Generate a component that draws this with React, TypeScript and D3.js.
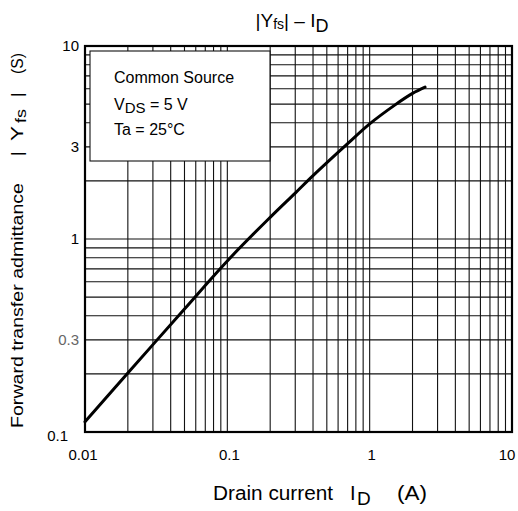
import React from "react";
import * as d3 from "d3";

const currentA = [0.01, 0.02, 0.05, 0.1, 0.2, 0.3, 0.4, 0.7, 1.0, 1.5, 2.0, 2.45];
const yfsS = [0.113, 0.202, 0.434, 0.77, 1.295, 1.73, 2.13, 3.12, 3.95, 4.94, 5.68, 6.12];
const xTicks = [0.01, 0.1, 1, 10];
const xTickLabels = ["0.01", "0.1", "1", "10"];
const yTicks = [0.1, 0.3, 1, 3, 10];
const yTickLabels = ["0.1", "0.3", "1", "3", "10"];

const W = 518, H = 511;
const L = 85, R = 512, T = 46, B = 432;
const FONT = "Liberation Sans, Arial, sans-serif";

export default function App() {
  const x = d3.scaleLog().domain([0.01, 10]).range([L, R]);
  const y = d3.scaleLog().domain([0.1, 10]).range([B, T]);

  const xGrid: number[] = [];
  for (const d of [0.01, 0.1, 1]) for (let k = 1; k <= 9; k++) xGrid.push(d * k);
  xGrid.push(10);
  const yGrid: number[] = [];
  for (const d of [0.1, 1]) for (let k = 1; k <= 9; k++) yGrid.push(d * k);
  yGrid.push(10);

  const pts = currentA.map((c, i) => [c, yfsS[i]] as [number, number]);
  const line = d3
    .line<[number, number]>()
    .x((d) => x(d[0]))
    .y((d) => y(d[1]))
    .curve(d3.curveCatmullRom.alpha(0.5));

  const lg = { x0: 90, y0: 51, x1: 270, y1: 161 };
  const ry = (sy: number) => -sy;

  return (
    <div style={{ position: "absolute", left: 0, top: 0 }}>
      <svg width={W} height={H} style={{ display: "block", background: "#fff" }} fontFamily={FONT}>
        <rect x={0} y={0} width={W} height={H} fill="#fff" />
        {xGrid.map((v, i) => (
          <line key={"vx" + i} x1={x(v)} x2={x(v)} y1={T} y2={B} stroke="#111" strokeWidth={1.1} />
        ))}
        {yGrid.map((v, i) => (
          <line key={"hy" + i} x1={L} x2={R} y1={y(v)} y2={y(v)} stroke="#111" strokeWidth={1.1} />
        ))}
        <rect x={lg.x0} y={lg.y0} width={lg.x1 - lg.x0} height={lg.y1 - lg.y0} fill="#fff" stroke="#111" strokeWidth={1.1} />
        <g fontSize={16} fill="#000">
          <text x={114} y={83}>Common Source</text>
          <text x={114} y={110}>
            V<tspan fontSize={15} dy={3}>DS</tspan>
            <tspan dy={-3}> = 5 V</tspan>
          </text>
          <text x={114} y={135}>Ta = 25°C</text>
        </g>
        <rect x={L} y={T} width={R - L} height={B - T} fill="none" stroke="#000" strokeWidth={2.2} />
        <path d={line(pts) || ""} fill="none" stroke="#000" strokeWidth={3} strokeLinecap="round" />

        <g fontSize={15} fill="#000">
          {xTicks.map((v, i) => (
            <text key={"xt" + i} x={i === 3 ? x(v) - 5 : i === 0 ? x(v) - 2 : x(v) + 2} y={460} textAnchor="middle">
              {xTickLabels[i]}
            </text>
          ))}
          {yTicks.map((v, i) => (
            <text
              key={"yt" + i}
              x={i === 0 ? 68 : 79}
              y={i === 0 ? 441 : y(v) + 5}
              textAnchor="end"
              fill={i === 1 ? "#666" : "#000"}
            >
              {yTickLabels[i]}
            </text>
          ))}
        </g>

        {/* title */}
        <text x={292} y={27} fontSize={19} textAnchor="middle" fill="#000">
          |Y<tspan fontSize={14} dy={2}>fs</tspan>
          <tspan dy={-2}>| – I</tspan>
          <tspan dy={5} fontSize={18}>D</tspan>
        </text>

        {/* x label */}
        <g fill="#000" fontSize={20}>
          <text x={213} y={500} textLength={120} lengthAdjust="spacingAndGlyphs">Drain current</text>
          <text x={350} y={500}>I</text>
          <text x={357} y={505} fontSize={19}>D</text>
          <text x={397} y={500} textLength={30} lengthAdjust="spacingAndGlyphs">(A)</text>
        </g>

        {/* y label */}
        <g transform="translate(23,0) rotate(-90)" fill="#000" fontSize={17}>
          <text x={ry(428)} y={0} textLength={245} lengthAdjust="spacingAndGlyphs">Forward transfer admittance</text>
          <text x={ry(156)} y={0}>|</text>
          <text x={ry(141)} y={0} textLength={15} lengthAdjust="spacingAndGlyphs">Y</text>
          <text x={ry(123)} y={3} fontSize={15} textLength={14} lengthAdjust="spacingAndGlyphs">fs</text>
          <text x={ry(97)} y={0}>|</text>
          <text x={ry(74)} y={0} textLength={21} lengthAdjust="spacingAndGlyphs">(S)</text>
        </g>
      </svg>
    </div>
  );
}
